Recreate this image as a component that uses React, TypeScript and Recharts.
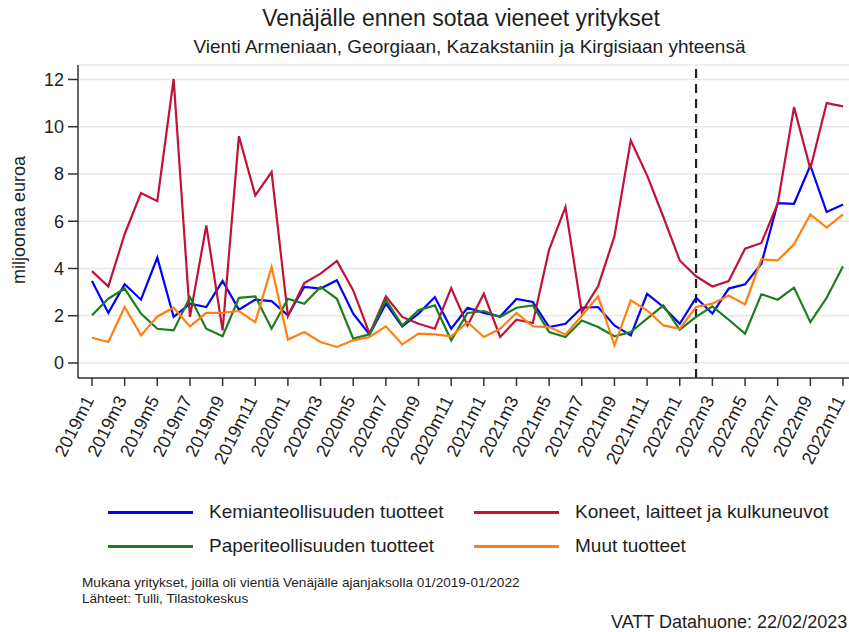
import { LineChart, Line, XAxis, YAxis, CartesianGrid, ReferenceLine } from 'recharts'

const MONTHS = [
  '2019m1', '2019m2', '2019m3', '2019m4', '2019m5', '2019m6', '2019m7', '2019m8', '2019m9', '2019m10', '2019m11', '2019m12',
  '2020m1', '2020m2', '2020m3', '2020m4', '2020m5', '2020m6', '2020m7', '2020m8', '2020m9', '2020m10', '2020m11', '2020m12',
  '2021m1', '2021m2', '2021m3', '2021m4', '2021m5', '2021m6', '2021m7', '2021m8', '2021m9', '2021m10', '2021m11', '2021m12',
  '2022m1', '2022m2', '2022m3', '2022m4', '2022m5', '2022m6', '2022m7', '2022m8', '2022m9', '2022m10', '2022m11',
]

// miljoonaa euroa
const KEMIA = [
  3.47, 2.12, 3.33, 2.68, 4.46, 1.95, 2.51, 2.37, 3.47, 2.26, 2.68, 2.62,
  2.02, 3.22, 3.15, 3.5, 2.09, 1.21, 2.51, 1.55, 2.09, 2.79, 1.45, 2.34,
  2.12, 1.97, 2.71, 2.58, 1.52, 1.66, 2.34, 2.37, 1.59, 1.17, 2.93, 2.37,
  1.66, 2.76, 2.09, 3.15, 3.33, 4.2, 6.77, 6.74, 8.36, 6.39, 6.71,
]
const KONEET = [
  3.89, 3.24, 5.45, 7.19, 6.85, 12.02, 1.95, 5.82, 1.38, 9.6, 7.09, 8.08,
  1.98, 3.38, 3.78, 4.32, 3.07, 1.24, 2.82, 1.95, 1.66, 1.45, 3.17, 1.59,
  2.93, 1.1, 1.83, 1.69, 4.8, 6.6, 2.15, 3.25, 5.36, 9.42, 7.94, 6.18,
  4.34, 3.67, 3.24, 3.47, 4.84, 5.08, 6.74, 10.83, 8.22, 11.0, 10.86,
]
const PAPERI = [
  2.02, 2.72, 3.15, 2.09, 1.45, 1.38, 2.79, 1.45, 1.13, 2.76, 2.82, 1.45,
  2.72, 2.51, 3.22, 2.72, 1.03, 1.21, 2.68, 1.59, 2.23, 2.44, 0.96, 2.12,
  2.2, 1.95, 2.34, 2.44, 1.31, 1.1, 1.8, 1.52, 1.13, 1.31, 1.88, 2.44,
  1.41, 1.95, 2.4, 1.83, 1.24, 2.91, 2.68, 3.19, 1.73, 2.76, 4.09,
]
const MUUT = [
  1.07, 0.89, 2.37, 1.17, 1.97, 2.34, 1.55, 2.12, 2.12, 2.2, 1.73, 4.06,
  0.99, 1.31, 0.89, 0.68, 0.96, 1.1, 1.55, 0.79, 1.24, 1.21, 1.13, 1.73,
  1.1, 1.45, 2.12, 1.55, 1.52, 1.21, 2.0, 2.82, 0.75, 2.65, 2.23, 1.59,
  1.45, 2.37, 2.51, 2.86, 2.48, 4.39, 4.34, 5.02, 6.29, 5.73, 6.29,
]
const Y_TICKS = [0, 2, 4, 6, 8, 10, 12]
const WAR_MONTH = '2022m2'

const SERIES = [
  { key: 'kemia', name: 'Kemianteollisuuden tuotteet', color: '#0000ff' },
  { key: 'koneet', name: 'Koneet, laitteet ja kulkuneuvot', color: '#c1123a' },
  { key: 'paperi', name: 'Paperiteollisuuden tuotteet', color: '#1a7f1a' },
  { key: 'muut', name: 'Muut tuotteet', color: '#ff8010' },
]

const data = MONTHS.map((m, i) => ({
  month: m,
  kemia: KEMIA[i],
  koneet: KONEET[i],
  paperi: PAPERI[i],
  muut: MUUT[i],
}))

const FONT = '"Liberation Sans", Arial, sans-serif'
const TEXT = '#1e1e1e'

const XTick = ({ x, y, payload }: any) => (
  <g transform={`translate(${x},${y})`}>
    <text
      x={-5}
      y={0}
      dy="0.3em"
      textAnchor="end"
      transform="rotate(-63)"
      fontSize={18}
      fill={TEXT}
      fontFamily={FONT}
    >
      {payload.value}
    </text>
  </g>
)

export default function App() {
  return (
    <div
      style={{
        position: 'absolute',
        left: 0,
        top: 0,
        width: 849,
        height: 632,
        background: '#fff',
        fontFamily: FONT,
        color: TEXT,
        overflow: 'hidden',
      }}
    >
      <div style={{ position: 'absolute', left: 0, width: 922, top: 5, textAlign: 'center', fontSize: 23 }}>
        Venäjälle ennen sotaa vieneet yritykset
      </div>
      <div style={{ position: 'absolute', left: 0, width: 939, top: 36, textAlign: 'center', fontSize: 19 }}>
        Vienti Armeniaan, Georgiaan, Kazakstaniin ja Kirgisiaan yhteensä
      </div>
      <div
        style={{
          position: 'absolute',
          left: 19,
          top: 220,
          transform: 'translate(-50%, -50%) rotate(-90deg)',
          whiteSpace: 'nowrap',
          fontSize: 18,
        }}
      >
        miljoonaa euroa
      </div>

      <div style={{ position: 'absolute', left: 0, top: 0 }}>
        <LineChart width={849} height={470} data={data} margin={{ top: 65, right: 0, bottom: 12, left: 18 }}>
          <CartesianGrid vertical={false} stroke="#e8e8e8" strokeWidth={1.5} />
          <XAxis
            dataKey="month"
            interval={1}
            height={80}
            padding={{ left: 14, right: 6 }}
            tick={<XTick />}
            tickSize={8}
            tickMargin={7}
            axisLine={{ stroke: '#333', strokeWidth: 1.5 }}
            tickLine={{ stroke: '#333', strokeWidth: 1.5 }}
          />
          <YAxis
            domain={[0, 12]}
            ticks={Y_TICKS}
            width={60}
            padding={{ top: 14, bottom: 15 }}
            tickSize={10}
            tickMargin={4}
            tick={{ fontSize: 18, fill: TEXT, fontFamily: FONT }}
            axisLine={{ stroke: '#333', strokeWidth: 1.5 }}
            tickLine={{ stroke: '#333', strokeWidth: 1.5 }}
          />
          <ReferenceLine x={WAR_MONTH} stroke="#222" strokeWidth={2.2} strokeDasharray="9 6" />
          {SERIES.map(s => (
            <Line
              key={s.key}
              type="linear"
              dataKey={s.key}
              name={s.name}
              stroke={s.color}
              strokeWidth={2.2}
              dot={false}
              isAnimationActive={false}
            />
          ))}
        </LineChart>
      </div>

      {SERIES.map((s, i) => {
        const col = i % 2
        const row = Math.floor(i / 2)
        const left = col === 0 ? 108 : 474
        const top = row === 0 ? 512 : 546
        return (
          <div key={s.key} style={{ position: 'absolute', left, top: top - 12, height: 24, display: 'flex', alignItems: 'center' }}>
            <div style={{ width: 85, height: 3, background: s.color }} />
            <div style={{ marginLeft: 16, fontSize: 19, whiteSpace: 'nowrap' }}>{s.name}</div>
          </div>
        )
      })}

      <div style={{ position: 'absolute', left: 82, top: 575, fontSize: 13.6, lineHeight: '16px' }}>
        Mukana yritykset, joilla oli vientiä Venäjälle ajanjaksolla 01/2019-01/2022
        <br />
        Lähteet: Tulli, Tilastokeskus
      </div>
      <div style={{ position: 'absolute', left: 611, top: 612, fontSize: 18, whiteSpace: 'nowrap' }}>
        VATT Datahuone: 22/02/2023
      </div>
    </div>
  )
}
